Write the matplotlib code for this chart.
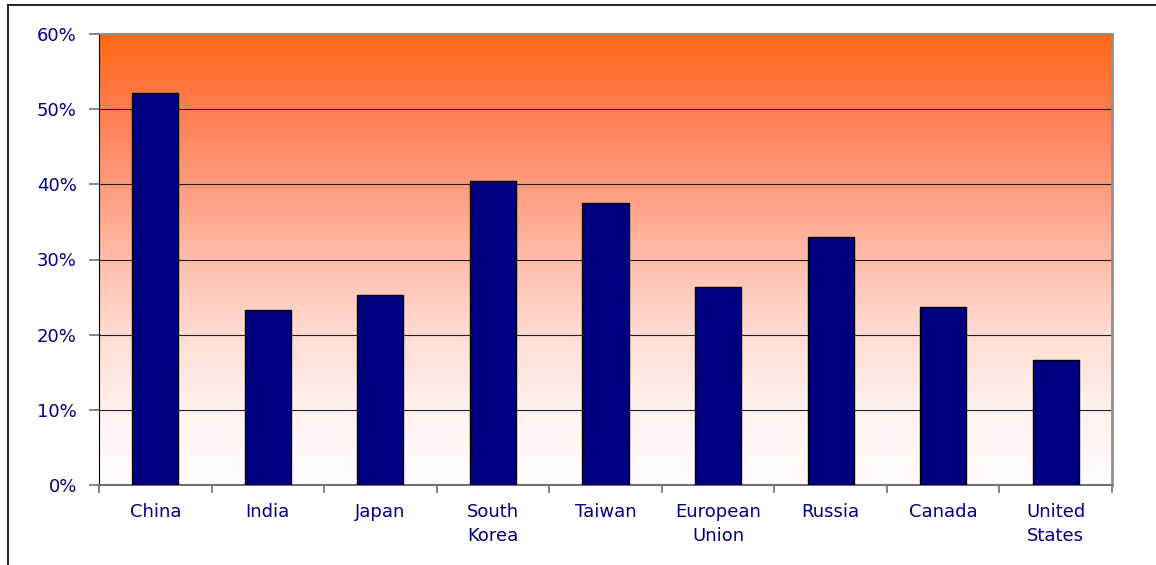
import matplotlib.pyplot as plt
import numpy as np
from matplotlib.colors import LinearSegmentedColormap
from matplotlib.lines import Line2D

countries = ['China', 'India', 'Japan', 'South\nKorea', 'Taiwan', 'European\nUnion',
             'Russia', 'Canada', 'United\nStates']
shares = [52.2, 23.3, 25.3, 40.5, 37.5, 26.3, 33.0, 23.7, 16.6]
yticks = [0, 10, 20, 30, 40, 50, 60]

navy = '#000080'
plt.rcParams['font.family'] = ['DejaVu Sans']

fig = plt.figure(figsize=(11.56, 5.65), dpi=100)
ax = fig.add_axes([99 / 1156, 80 / 565, 1013 / 1156, 451 / 565])

# gradient background, orange at top fading to near white
stops = [(0.0, '#fffdfc'), (1 / 6, '#fff2ee'), (2 / 6, '#ffdcd2'), (3 / 6, '#ffbdaa'),
         (4 / 6, '#ff9a7c'), (5 / 6, '#ff7d50'), (1.0, '#ff6912')]
cmap = LinearSegmentedColormap.from_list('bg', stops)
grad = np.linspace(0, 1, 256).reshape(-1, 1)
ax.imshow(grad, cmap=cmap, aspect='auto', origin='lower',
          extent=[-0.5, len(countries) - 0.5, 0, 60], zorder=0)

x = np.arange(len(countries))
ax.bar(x, shares, width=0.41, color=navy, edgecolor='black', linewidth=1, zorder=3)

ax.set_xlim(-0.5, len(countries) - 0.5)
ax.set_ylim(0, 60)
ax.set_yticks(yticks)
ax.set_yticklabels([f'{v}%' for v in yticks], color=navy, fontsize=13)
for v in yticks[1:]:
    ax.axhline(v, color='#202020', linewidth=0.8, zorder=1)

# category labels between boundary ticks
ax.set_xticks(np.arange(len(countries) + 1) - 0.5)
ax.set_xticklabels([])
ax.set_xticks(x, minor=True)
ax.set_xticklabels(countries, minor=True, color=navy, fontsize=13, linespacing=1.4)
ax.tick_params(axis='x', which='minor', length=0, pad=13)
ax.tick_params(axis='x', which='major', length=6, color='#707070', width=1.2)
ax.tick_params(axis='y', length=7, color='#707070', width=1.2, pad=9)
for lbl in ax.get_xticklabels(minor=True):
    lbl.set_verticalalignment('top')

ax.spines['left'].set_color('black')
ax.spines['bottom'].set_color('#707070')
ax.spines['bottom'].set_linewidth(1.5)
ax.spines['top'].set_color('#909090')
ax.spines['right'].set_color('#909090')
ax.spines['right'].set_linewidth(2)
ax.spines['top'].set_linewidth(1.5)

# outer frame lines (top and left)
fig.add_artist(Line2D([8 / 1156, 1], [1 - 5 / 565, 1 - 5 / 565], color='black', linewidth=1.2))
fig.add_artist(Line2D([8 / 1156, 8 / 1156], [0, 1 - 5 / 565], color='black', linewidth=1.2))

fig.savefig('out.png', dpi=100)
